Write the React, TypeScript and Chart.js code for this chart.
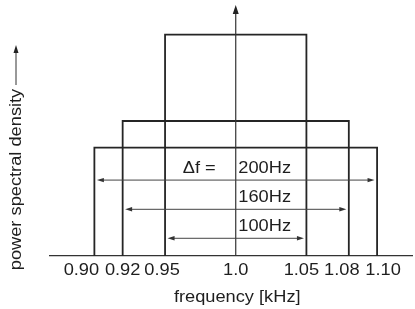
import React, { useEffect, useRef } from 'react';
import { Chart, registerables } from 'chart.js';

Chart.register(...registerables);

// ---- data ----
const bandLow = [0.95, 0.92, 0.9];
const bandHigh = [1.05, 1.08, 1.1];
const bandLevel = [1.0, 0.61, 0.49];
const bandWidthLabels = ['100Hz', '160Hz', '200Hz'];
const tickValues = [0.9, 0.92, 0.95, 1.0, 1.05, 1.08, 1.1];
const tickLabels = ['0.90', '0.92', '0.95', '1.0', '1.05', '1.08', '1.10'];
const centerFreq = 1.0;
const xTitle = 'frequency [kHz]';
const yTitle = 'power spectral density';
const deltaLabel = 'Δf =';

// ---- drawing config ----
const FONT = '16px "Liberation Sans", Arial, sans-serif';
const STRETCH = 1.14;
const TEXT_COLOR = '#1e1e1e';
const arrowLevels = [0.08, 0.211, 0.343];
const tickNudge = [-13, 0, -3, 0, -5, -7, 6];

function drawText(ctx: CanvasRenderingContext2D, text: string, x: number, y: number, align: CanvasTextAlign, rotate = 0) {
  ctx.save();
  ctx.translate(x, y);
  if (rotate) ctx.rotate(rotate);
  ctx.scale(STRETCH, 1);
  ctx.font = FONT;
  ctx.fillStyle = TEXT_COLOR;
  ctx.textAlign = align;
  ctx.textBaseline = 'middle';
  ctx.fillText(text, 0, 0);
  ctx.restore();
}

function head(ctx: CanvasRenderingContext2D, tx: number, ty: number, dx: number, dy: number, len: number, hw: number) {
  const bx = tx - dx * len;
  const by = ty - dy * len;
  const px = -dy;
  const py = dx;
  ctx.beginPath();
  ctx.moveTo(tx, ty);
  ctx.lineTo(bx + px * hw, by + py * hw);
  ctx.lineTo(bx - px * hw, by - py * hw);
  ctx.closePath();
  ctx.fill();
}

const annotatePlugin = {
  id: 'annotate',
  afterDatasetsDraw(chart: any) {
    const ctx: CanvasRenderingContext2D = chart.ctx;
    const xs = chart.scales.x;
    const ys = chart.scales.y;
    const area = chart.chartArea;
    const axisX = xs.getPixelForValue(centerFreq);
    const baseY = ys.getPixelForValue(0);

    ctx.save();
    // vertical axis with arrow
    ctx.strokeStyle = '#333';
    ctx.fillStyle = '#222';
    ctx.lineWidth = 1.2;
    ctx.beginPath();
    ctx.moveTo(axisX, baseY);
    ctx.lineTo(axisX, area.top + 6);
    ctx.stroke();
    head(ctx, axisX, area.top, 0, -1, 9, 3);

    // bandwidth arrows
    ctx.strokeStyle = '#444';
    ctx.fillStyle = '#333';
    ctx.lineWidth = 1;
    for (let i = 0; i < bandLow.length; i++) {
      const y = ys.getPixelForValue(arrowLevels[i]);
      const x1 = xs.getPixelForValue(bandLow[i]) + 2.5;
      const x2 = xs.getPixelForValue(bandHigh[i]) - 2.5;
      ctx.beginPath();
      ctx.moveTo(x1 + 4, y);
      ctx.lineTo(x2 - 4, y);
      ctx.stroke();
      head(ctx, x1, y, -1, 0, 7, 2.2);
      head(ctx, x2, y, 1, 0, 7, 2.2);
      drawText(ctx, bandWidthLabels[i], axisX + 2.6, y - 11.5, 'left');
      if (i === bandLow.length - 1) {
        drawText(ctx, deltaLabel, axisX - 20, y - 11.5, 'right');
      }
    }

    // tick labels
    for (let i = 0; i < tickValues.length; i++) {
      const x = xs.getPixelForValue(tickValues[i]) + tickNudge[i];
      drawText(ctx, tickLabels[i], x, baseY + 15, 'center');
    }

    // x title
    drawText(ctx, xTitle, axisX + 1.5, baseY + 42, 'center');

    // y title with arrow
    drawText(ctx, yTitle, 17, 179.5, 'center', -Math.PI / 2);
    ctx.strokeStyle = '#333';
    ctx.fillStyle = '#222';
    ctx.lineWidth = 1;
    ctx.beginPath();
    ctx.moveTo(16, 85);
    ctx.lineTo(16, 51);
    ctx.stroke();
    head(ctx, 16, 45, 0, -1, 8, 2.5);
    ctx.restore();
  },
};

export default function App() {
  const ref = useRef<HTMLCanvasElement | null>(null);

  useEffect(() => {
    if (!ref.current) return;
    const datasets = bandLow.map((lo, i) => ({
      label: bandWidthLabels[i],
      data: [
        { x: lo, y: 0 },
        { x: lo, y: bandLevel[i] },
        { x: bandHigh[i], y: bandLevel[i] },
        { x: bandHigh[i], y: 0 },
      ],
      showLine: true,
      borderColor: '#252525',
      borderWidth: 1.8,
      pointRadius: 0,
      pointHoverRadius: 0,
      tension: 0,
      fill: false,
    }));

    const chart = new Chart(ref.current, {
      type: 'scatter',
      data: { datasets },
      options: {
        animation: false,
        responsive: false,
        maintainAspectRatio: false,
        devicePixelRatio: 1,
        layout: { padding: { left: 50, right: 3, top: 5, bottom: 53 } },
        plugins: {
          legend: { display: false },
          tooltip: { enabled: false },
        },
        scales: {
          x: {
            type: 'linear',
            min: 0.8686,
            max: 1.1247,
            grid: { display: false, drawTicks: false },
            ticks: { display: false },
            border: { display: true, color: '#333', width: 1.2 },
          },
          y: {
            type: 'linear',
            min: 0,
            max: 1.1342,
            display: false,
          },
        },
      },
      plugins: [annotatePlugin],
    });
    return () => chart.destroy();
  }, []);

  return (
    <div style={{ position: 'fixed', left: 0, top: 0, width: 415, height: 309, background: '#fff' }}>
      <canvas ref={ref} width={415} height={309} style={{ display: 'block' }} />
    </div>
  );
}
